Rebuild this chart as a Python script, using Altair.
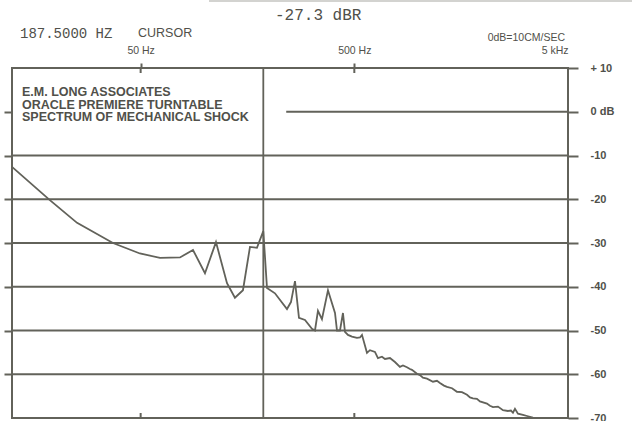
import altair as alt
import pandas as pd

# ---- data ----
freq_hz = [12.5, 18.8, 25.2, 37.1, 49.6, 61.6, 76.4, 87.9, 100.0, 112.6,
           126.8, 138.1, 150.6, 162.4, 175.1, 187.5, 195.1, 212.6, 242.0, 252.6,
           263.8, 275.4, 293.8, 316.8, 327.2, 337.9, 352.7, 376.4, 406.0, 414.8,
           428.4, 442.4, 452.0, 466.9, 487.4, 514.4, 531.4, 543.0, 573.0, 591.8,
           624.5, 645.0, 673.5, 695.6, 734.0, 774.6, 817.5, 844.5, 881.6, 910.6,
           930.4, 981.9, 1014, 1047, 1094, 1167, 1218, 1258, 1314, 1357,
           1433, 1511, 1595, 1684, 1739, 1795, 1874, 1936, 2088, 2156,
           2228, 2351, 2481, 2618, 2704, 2763, 2824, 2916, 3077, 3247,
           3427, 3616]
level_db = [-12.6, -20.2, -25.4, -30.0, -32.4, -33.4, -33.3, -31.6, -36.9, -29.8,
            -39.2, -42.5, -40.8, -30.9, -31.1, -27.3, -40.3, -41.5, -45.1, -43.5,
            -38.7, -47.1, -47.6, -49.6, -50.0, -45.5, -47.4, -40.8, -46.0, -50.0,
            -50.0, -46.0, -50.3, -51.0, -51.4, -51.7, -51.6, -51.0, -55.1, -54.5,
            -54.9, -56.3, -56.0, -56.5, -56.3, -57.2, -58.3, -58.0, -58.4, -58.8,
            -59.0, -59.9, -60.2, -60.8, -61.0, -61.7, -61.5, -62.0, -62.6, -62.9,
            -63.2, -64.0, -64.1, -64.7, -65.3, -65.5, -65.6, -66.2, -66.7, -67.2,
            -67.5, -67.4, -68.2, -68.4, -68.3, -68.8, -67.9, -69.0, -69.3, -69.6,
            -69.9, -70.0]

grid_levels = [0, -10, -20, -30, -40, -50, -60]
grid_start_hz = [240, 12.5, 12.5, 12.5, 12.5, 12.5, 12.5]
grid_end_hz = [5000, 5000, 5000, 5000, 5000, 5000, 5000]

right_ticks = [10, 0, -10, -20, -30, -40, -50, -60, -70]
left_ticks = [0, -10, -20, -30, -40, -50, -60]
freq_ticks = [50, 500, 5000]
inner_tick_hz = [50, 500]

cursor_hz = 187.5
cursor_readout = "-27.3 dBR"
cursor_freq_text = "187.5000 HZ"
cursor_word = "CURSOR"
reference_text = "0dB=10CM/SEC"
box_lines = ["E.M. LONG ASSOCIATES", "ORACLE PREMIERE TURNTABLE",
             "SPECTRUM OF MECHANICAL SHOCK"]

LINE = "#62625a"
TEXT = "#50504a"
SANS = "Liberation Sans, Arial, Helvetica, sans-serif"
MONO = "Liberation Mono, DejaVu Sans Mono, monospace"

spec = pd.DataFrame({"f": freq_hz, "db": level_db})
grid = pd.DataFrame({"db": grid_levels, "f0": grid_start_hz, "f1": grid_end_hz})
one = pd.DataFrame({"k": [0]})

xscale = alt.Scale(type="log", domain=[12.5, 5000], nice=False)
yscale = alt.Scale(domain=[-70, 10], nice=False, zero=False)

top_axis = alt.Axis(
    orient="top", values=freq_ticks, title=None, domain=False, grid=False,
    labelExpr="datum.value == 50 ? '50 Hz' : datum.value == 500 ? '500 Hz' : '5 kHz'",
    labelFont=SANS, labelFontSize=10.5, labelColor=TEXT, labelPadding=8,
    labelFlush=True, tickSize=5, tickWidth=2, tickColor=LINE,
    tickOpacity={"condition": {"test": "datum.value >= 5000", "value": 0}, "value": 1},
)
left_axis = alt.Axis(
    orient="left", values=left_ticks, title=None, labels=False, domain=False,
    grid=False, tickSize=8, tickWidth=2, tickColor=LINE,
)
right_axis = alt.Axis(
    orient="right", values=right_ticks, title=None, domain=False, grid=False,
    labelExpr="datum.value == 10 ? '+ 10' : datum.value == 0 ? '0 dB' : '-' + abs(datum.value)",
    labelFont=SANS, labelFontSize=11, labelFontWeight="bold", labelColor=TEXT,
    labelPadding=12, labelAlign="left", labelBaseline="middle",
    tickSize=10, tickWidth=2, tickColor=LINE,
)

gridlines = alt.Chart(grid).mark_rule(color=LINE, strokeWidth=1.8).encode(
    x=alt.X("f0:Q", scale=xscale, axis=top_axis),
    x2="f1:Q",
    y=alt.Y("db:Q", scale=yscale, axis=right_axis),
)

curve = alt.Chart(spec).mark_line(color=LINE, strokeWidth=1.8, clip=True).encode(
    x=alt.X("f:Q", scale=xscale, axis=None),
    y=alt.Y("db:Q", scale=yscale, axis=left_axis),
)

cursor = alt.Chart(pd.DataFrame({"f": [cursor_hz], "a": [-70], "b": [10]})).mark_rule(
    color=LINE, strokeWidth=1.8).encode(
    x=alt.X("f:Q", scale=xscale, axis=None),
    y=alt.Y("a:Q", scale=yscale, axis=None),
    y2="b:Q",
)

ticks_in = pd.DataFrame({
    "f": inner_tick_hz * 2,
    "a": [10, 10, -70, -70],
    "b": [8.85, 8.85, -68.85, -68.85],
})
inner_ticks = alt.Chart(ticks_in).mark_rule(color=LINE, strokeWidth=2).encode(
    x=alt.X("f:Q", scale=xscale, axis=None),
    y=alt.Y("a:Q", scale=yscale, axis=None),
    y2="b:Q",
)

def label(text, x, y, font, size, align="left", weight="normal"):
    return alt.Chart(one).mark_text(
        align=align, baseline="middle", font=font, fontSize=size,
        fontWeight=weight, color=TEXT, clip=False,
    ).encode(x=alt.value(x), y=alt.value(y), text=alt.value(text))

texts = [
    label(cursor_readout, 263, -53, MONO, 16),
    label(cursor_freq_text, 8, -34, MONO, 14),
    label(cursor_word, 126, -35, SANS, 12.5),
    label(reference_text, 553, -30, SANS, 10.5, align="right"),
]

box = alt.Chart(one).mark_text(
    align="left", baseline="top", font=SANS, fontSize=12.5, fontWeight="bold",
    color=TEXT, lineHeight=12.5, clip=False,
).encode(x=alt.value(10), y=alt.value(18), text=alt.value(box_lines))

scan_edge = alt.Chart(one).mark_rule(color="#c4c4c0", strokeWidth=1.5).encode(
    x=alt.value(197), x2=alt.value(620), y=alt.value(-67)
)

chart = alt.layer(
    gridlines, cursor, inner_ticks, curve, box, scan_edge, *texts
).resolve_scale(y="independent").resolve_axis(x="independent", y="independent").properties(
    width=556, height=350,
    autosize=alt.AutoSizeParams(type="none"),
    padding={"left": 12, "top": 68, "right": 64, "bottom": 3},
    background="white",
).configure_view(stroke=LINE, strokeWidth=2)

chart.save("out.html", embed_options={"renderer": "svg", "actions": False})
